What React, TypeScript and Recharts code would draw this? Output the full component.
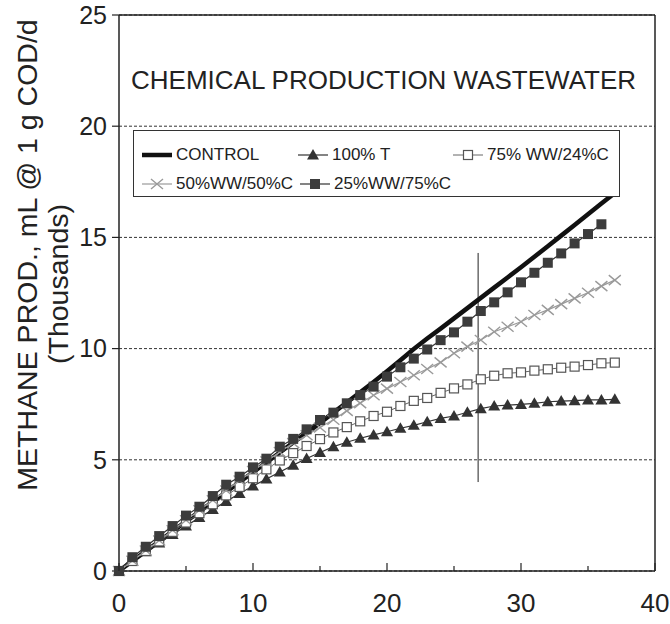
import React from "react";
import {
  LineChart,
  Line,
  XAxis,
  YAxis,
  CartesianGrid,
  ReferenceLine,
  Legend,
  Customized,
} from "recharts";

// days of incubation
const days = [
  0, 1, 2, 3, 4, 5, 6, 7, 8, 9, 10, 11, 12, 13, 14, 15, 16, 17, 18, 19, 20,
  21, 22, 23, 24, 25, 26, 27, 28, 29, 30, 31, 32, 33, 34, 35, 36, 37,
];

// cumulative methane, thousands of mL
const control = [
  0, 0.45, 0.89, 1.34, 1.78, 2.23, 2.67, 3.11, 3.55, 4.0, 4.44, 4.88, 5.33,
  5.78, 6.2, 6.66, 7.12, 7.58, 8.04, 8.5, 8.98, 9.48, 9.98, 10.45, 10.9,
  11.36, 11.82, 12.28, 12.74, 13.2, 13.66, 14.13, 14.6, 15.08, 15.56, 16.04,
  16.52, 17.0,
];
const t100 = [
  0, 0.45, 0.86, 1.26, 1.64, 2.02, 2.4, 2.77, 3.13, 3.48, 3.82, 4.14, 4.45,
  4.76, 5.06, 5.33, 5.59, 5.79, 5.97, 6.12, 6.26, 6.42, 6.55, 6.71, 6.86, 6.97,
  7.14, 7.3, 7.42, 7.46, 7.49, 7.54, 7.61, 7.64, 7.66, 7.69, 7.69, 7.72,
];
const ww75 = [
  0, 0.45, 0.9, 1.33, 1.76, 2.18, 2.6, 3.0, 3.4, 3.78, 4.17, 4.57, 4.97, 5.3,
  5.62, 5.93, 6.23, 6.47, 6.73, 6.97, 7.16, 7.42, 7.65, 7.78, 8.01, 8.21, 8.39,
  8.62, 8.78, 8.89, 8.93, 9.01, 9.07, 9.14, 9.19, 9.26, 9.34, 9.37,
];
const ww50 = [
  0, 0.46, 0.92, 1.37, 1.83, 2.28, 2.73, 3.18, 3.62, 4.07, 4.5, 4.93, 5.35,
  5.75, 6.1, 6.45, 6.8, 7.2, 7.55, 7.9, 8.2, 8.5, 8.8, 9.08, 9.38, 9.79, 10.09,
  10.39, 10.76, 10.98, 11.21, 11.51, 11.74, 12.0, 12.26, 12.51, 12.81, 13.08,
];
const ww25 = [
  0, 0.62, 1.09, 1.57, 2.02, 2.49, 2.89, 3.37, 3.88, 4.24, 4.66, 5.05, 5.59,
  5.94, 6.37, 6.79, 7.12, 7.54, 7.91, 8.29, 8.74, 9.16, 9.55, 9.96, 10.38,
  10.73, 11.21, 11.69, 12.08, 12.53, 12.98, 13.41, 13.86, 14.28, 14.73, 15.15,
  15.59,
];

const xTicks = [0, 5, 10, 15, 20, 25, 30, 35, 40];
const yTicks = [0, 5, 10, 15, 20, 25];

const rows = days.map((d, i) => ({
  day: d,
  control: control[i],
  t100: t100[i],
  ww75: ww75[i],
  ww50: ww50[i],
  ww25: ww25[i],
}));

const FONT = "'Liberation Sans', Arial, sans-serif";
const INK = "#222";

const triangle = (cx: number, cy: number, c: string) => (
  <path d={`M${cx},${cy - 6} L${cx + 6},${cy + 4.5} L${cx - 6},${cy + 4.5} Z`} fill={c} />
);
const openSquare = (cx: number, cy: number) => (
  <rect x={cx - 4.5} y={cy - 4.5} width={9} height={9} fill="#fff" stroke="#555" strokeWidth={1.2} />
);
const cross = (cx: number, cy: number) => (
  <path
    d={`M${cx - 6},${cy - 5} L${cx + 6},${cy + 5} M${cx - 6},${cy + 5} L${cx + 6},${cy - 5}`}
    stroke="#9a9a9a"
    strokeWidth={1.4}
  />
);
const fullSquare = (cx: number, cy: number) => (
  <rect x={cx - 5} y={cy - 5} width={10} height={10} fill="#3c3c3c" />
);

function dotOf(draw: (cx: number, cy: number) => React.ReactElement) {
  return (p: any) => {
    if (p.cx == null || p.cy == null || p.value == null) return <g key={p.index} />;
    return <g key={p.index}>{draw(p.cx, p.cy)}</g>;
  };
}

const XTick = ({ x, y, payload }: any) => {
  const major = payload.value % 10 === 0;
  return (
    <g>
      <line x1={x} x2={x} y1={y} y2={y - (major ? 8 : 5)} stroke={INK} strokeWidth={1.2} />
      {major && (
        <text x={x} y={y + 41} textAnchor="middle" fontSize={26} fill={INK} fontFamily={FONT}>
          {payload.value}
        </text>
      )}
    </g>
  );
};

const legendItems = [
  { name: "CONTROL", left: 8, top: 24, kind: "control" },
  { name: "100% T", left: 164, top: 24, kind: "t100" },
  { name: "75% WW/24%C", left: 319, top: 24, kind: "ww75" },
  { name: "50%WW/50%C", left: 8, top: 53, kind: "ww50" },
  { name: "25%WW/75%C", left: 166, top: 53, kind: "ww25" },
];

function sample(kind: string) {
  const w = 30;
  const m = 15;
  let line = <line x1={0} x2={w} y1={8} y2={8} stroke="#333" strokeWidth={1.2} />;
  let mark: React.ReactNode = null;
  if (kind === "control") line = <line x1={0} x2={w} y1={8} y2={8} stroke="#111" strokeWidth={4.5} />;
  if (kind === "t100") mark = triangle(m, 8, "#333");
  if (kind === "ww75") {
    line = <line x1={0} x2={w} y1={8} y2={8} stroke="#666" strokeWidth={1} />;
    mark = openSquare(m, 8);
  }
  if (kind === "ww50") {
    line = <line x1={0} x2={w} y1={8} y2={8} stroke="#9a9a9a" strokeWidth={1.2} />;
    mark = cross(m, 8);
  }
  if (kind === "ww25") mark = fullSquare(m, 8);
  return (
    <svg width={w} height={16} style={{ overflow: "visible" }}>
      {line}
      {mark}
    </svg>
  );
}

const LegendBox = () => (
  <div
    style={{
      position: "relative",
      width: 487,
      height: 67,
      border: "1.5px solid #333",
      boxSizing: "border-box",
      background: "#fff",
      fontFamily: FONT,
      fontSize: 17,
      color: INK,
    }}
  >
    {legendItems.map((it) => (
      <div
        key={it.name}
        style={{
          position: "absolute",
          left: it.left,
          top: it.top - 10,
          display: "flex",
          alignItems: "center",
          gap: 4,
          whiteSpace: "nowrap",
          lineHeight: "20px",
        }}
      >
        {sample(it.kind)}
        <span>{it.name}</span>
      </div>
    ))}
  </div>
);

const Labels = () => (
  <g fontFamily={FONT} fill={INK}>
    <text x={131} y={89} fontSize={26}>
      CHEMICAL PRODUCTION WASTEWATER
    </text>
    <text
      x={27}
      y={255}
      fontSize={28.5}
      textAnchor="middle"
      dominantBaseline="central"
      transform="rotate(-90 27 255)"
    >
      METHANE PROD., mL @ 1 g COD/d
    </text>
    <text
      x={58}
      y={284}
      fontSize={28.5}
      textAnchor="middle"
      dominantBaseline="central"
      transform="rotate(-90 58 284)"
    >
      (Thousands)
    </text>
  </g>
);

export default function App() {
  return (
    <div style={{ position: "absolute", left: 0, top: 0, background: "#fff" }}>
      <LineChart
        width={670}
        height={624}
        data={rows}
        margin={{ top: 15, right: 15, bottom: 13, left: 59 }}
      >
        <CartesianGrid vertical={false} stroke="#333" strokeDasharray="3 2" strokeWidth={1} />
        <XAxis
          dataKey="day"
          type="number"
          domain={[0, 40]}
          ticks={xTicks}
          height={40}
          tickLine={false}
          tickSize={0}
          tickMargin={0}
          tick={<XTick />}
          axisLine={{ stroke: INK, strokeWidth: 1.5 }}
          interval={0}
        />
        <YAxis
          type="number"
          domain={[0, 25]}
          ticks={yTicks}
          width={60}
          tickSize={7}
          tickMargin={5}
          tick={{ fontSize: 25, fill: INK, fontFamily: FONT }}
          tickLine={{ stroke: INK, strokeWidth: 1.2 }}
          axisLine={{ stroke: INK, strokeWidth: 1.5 }}
          interval={0}
        />
        <ReferenceLine y={25} stroke={INK} strokeWidth={1.5} />
        <ReferenceLine x={40} stroke={INK} strokeWidth={1.5} />
        <ReferenceLine
          segment={[
            { x: 26.8, y: 4 },
            { x: 26.8, y: 14.3 },
          ]}
          stroke={INK}
          strokeWidth={1}
        />
        <Line
          dataKey="control"
          stroke="#111"
          strokeWidth={4.5}
          dot={false}
          isAnimationActive={false}
        />
        <Line
          dataKey="t100"
          stroke="#333"
          strokeWidth={1.2}
          dot={dotOf((cx, cy) => triangle(cx, cy, "#333"))}
          isAnimationActive={false}
        />
        <Line
          dataKey="ww75"
          stroke="#666"
          strokeWidth={1}
          dot={dotOf(openSquare)}
          isAnimationActive={false}
        />
        <Line
          dataKey="ww50"
          stroke="#9a9a9a"
          strokeWidth={1.2}
          dot={dotOf(cross)}
          isAnimationActive={false}
        />
        <Line
          dataKey="ww25"
          stroke="#333"
          strokeWidth={1.2}
          dot={dotOf(fullSquare)}
          isAnimationActive={false}
        />
        <Legend
          layout="horizontal"
          verticalAlign="middle"
          align="center"
          wrapperStyle={{ left: 133, top: 130, width: 487, height: 67 }}
          content={<LegendBox />}
        />
        <Customized component={Labels} />
      </LineChart>
    </div>
  );
}
